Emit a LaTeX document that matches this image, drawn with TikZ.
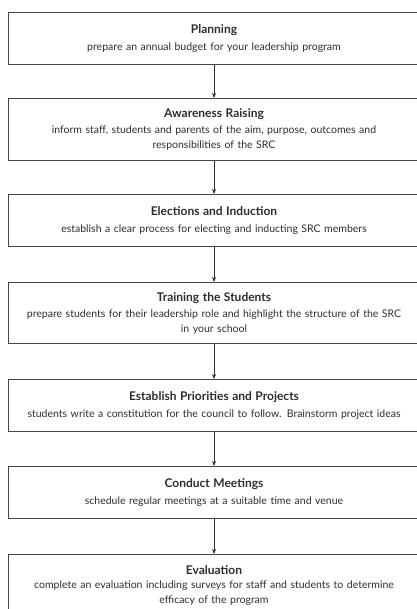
\documentclass[tikz,border=0pt]{standalone}
\usepackage{fontspec}
\setmainfont{Lato}
\usetikzlibrary{arrows.meta, positioning}
\definecolor{ink}{RGB}{45, 45, 45}
\definecolor{frame}{RGB}{70, 70, 70}

\begin{document}
\begin{tikzpicture}[
    stage/.style={
        rectangle,
        draw=frame,
        line width=0.9pt,
        anchor=north,
        minimum width=412pt,
        minimum height=52pt,
        inner ysep=1pt,
        text width=400pt,
        align=center,
        text=ink,
        font=\fontsize{10.5}{14.5}\selectfont
    },
    arrow/.style={
        -{Stealth[length=5pt, width=4pt]},
        line width=0.8pt,
        draw=ink
    }
]

% Column position (boxes run off the right edge)
\def\colA{214pt}

% Page frame (picture is cropped on the right and bottom)
\useasboundingbox (0,0) rectangle (416pt,-609pt);

% Stages, top to bottom
\node[stage] (plan) at (\colA,-12pt)
    {\textbf{\large Planning}\\[3pt]
     prepare an annual budget for your leadership program};
\node[stage, minimum height=62pt] (aware) at (\colA,-98pt)
    {\textbf{\large Awareness Raising}\\[2pt]
     inform staff, students and parents of the aim, purpose, outcomes and\\
     responsibilities of the SRC};
\node[stage] (elect) at (\colA,-194pt)
    {\textbf{\large Elections and Induction}\\[3pt]
     establish a clear process for electing and inducting SRC members};
\node[stage, minimum height=61pt] (train) at (\colA,-282pt)
    {\textbf{\large Training the Students}\\[2pt]
     prepare students for their leadership role and highlight the structure of the SRC\\
     in your school};
\node[stage] (prior) at (\colA,-379pt)
    {\textbf{\large Establish Priorities and Projects}\\[3pt]
     students write a constitution for the council to follow. Brainstorm project ideas};
\node[stage] (meet) at (\colA,-466pt)
    {\textbf{\large Conduct Meetings}\\[3pt]
     schedule regular meetings at a suitable time and venue};
\node[stage, minimum height=62pt] (eval) at (\colA,-554pt)
    {\textbf{\large Evaluation}\\[0pt]
     complete an evaluation including surveys for staff and students to determine\\
     efficacy of the program};

% Connecting arrows
\foreach \a/\b in {plan/aware, aware/elect, elect/train, train/prior, prior/meet, meet/eval} {
    \draw[arrow] (\a.south) -- (\b.north);
}

\end{tikzpicture}
\end{document}
